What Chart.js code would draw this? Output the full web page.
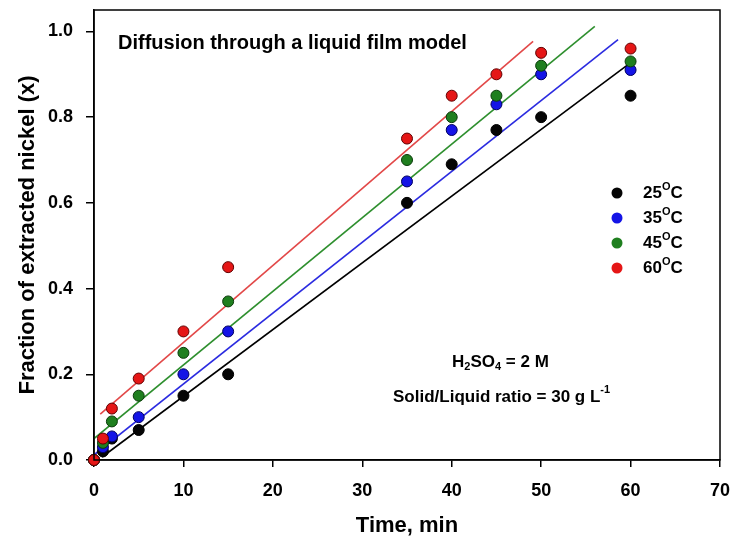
<!DOCTYPE html>
<html>
<head>
<meta charset="utf-8">
<script src="https://cdn.jsdelivr.net/npm/chart.js@4.4.1/dist/chart.umd.min.js"></script>
<style>
  html, body { margin: 0; padding: 0; background: #fff; }
  #wrap { width: 730px; height: 540px; }
</style>
</head>
<body>
<div id="wrap"><canvas id="chart" width="730" height="540"></canvas></div>
<script>
// ============ Data ============

const times = [0, 1, 2, 5, 10, 15, 35, 40, 45, 50, 60];
const temps = ['25', '35', '45', '60'];
const x25 = [0, 0.02, 0.05, 0.07, 0.15, 0.20, 0.60, 0.69, 0.77, 0.80, 0.85];
const x35 = [0, 0.03, 0.055, 0.10, 0.20, 0.30, 0.65, 0.77, 0.83, 0.90, 0.91];
const x45 = [0, 0.04, 0.09, 0.15, 0.25, 0.37, 0.70, 0.80, 0.85, 0.92, 0.93];
const x60 = [0, 0.05, 0.12, 0.19, 0.30, 0.45, 0.75, 0.85, 0.90, 0.95, 0.96];

// fitted lines (start, end) for each temperature
const fitT25 = [0.9, 60.2], fitX25 = [0.007, 0.93];
const fitT35 = [0, 58.6], fitX35 = [0.012, 0.981];
const fitT45 = [0, 56.0], fitX45 = [0.05, 1.012];
const fitT60 = [0.7, 49.1], fitX60 = [0.107, 0.977];

const xTicks = [0, 10, 20, 30, 40, 50, 60, 70];
const yTicks = [0, 0.2, 0.4, 0.6, 0.8, 1.0];

// ============ Styles ============

const FONT = "'Liberation Sans', Arial, sans-serif";
const FILL = ['#050505', '#1414e6', '#1f7f1f', '#e51616'];
const EDGE = ['#000000', '#000060', '#0a3a0a', '#600000'];
const LINE = ['#000000', '#2b2be0', '#2e8f2e', '#e24848'];

const seriesX = [x25, x35, x45, x60];
const fitsT = [fitT25, fitT35, fitT45, fitT60];
const fitsX = [fitX25, fitX35, fitX45, fitX60];

function toPoints(xs, ys) {
    return xs.map((x, i) => ({ x: x, y: ys[i] }));
}

const datasets = [];
temps.forEach((t, i) => {
    datasets.push({
        label: t + '°C',
        data: toPoints(times, seriesX[i]),
        backgroundColor: FILL[i],
        borderColor: EDGE[i],
        borderWidth: 1,
        pointRadius: 5.5,
        showLine: false,
        clip: false,
        order: 3 - i
    });
    datasets.push({
        label: t + ' fit',
        data: toPoints(fitsT[i], fitsX[i]),
        borderColor: LINE[i],
        borderWidth: 1.6,
        pointRadius: 0,
        showLine: true,
        fill: false,
        order: 10 + i
    });
});

// ============ Text helpers ============

// draws a run of pieces: {t, size, dy}
function drawRich(ctx, parts, x, y) {
    parts.forEach(p => {
        ctx.font = `bold ${p.size}px ${FONT}`;
        ctx.fillText(p.t, x, y + (p.dy || 0));
        x += ctx.measureText(p.t).width;
    });
}

const decorPlugin = {
    id: 'decor',
    afterDraw(chart) {
        const ctx = chart.ctx;
        const a = chart.chartArea;
        ctx.save();
        ctx.strokeStyle = '#000';
        ctx.lineWidth = 1.5;
        ctx.strokeRect(a.left, a.top, a.right - a.left, a.bottom - a.top);

        ctx.fillStyle = '#000';
        ctx.textBaseline = 'middle';
        ctx.textAlign = 'left';
        ctx.font = `bold 20px ${FONT}`;
        ctx.fillText('Diffusion through a liquid film model', 118, 43);

        // legend
        temps.forEach((t, i) => {
            const y = 193 + i * 25;
            ctx.beginPath();
            ctx.arc(617, y, 5.5, 0, Math.PI * 2);
            ctx.fillStyle = FILL[i];
            ctx.fill();
            ctx.fillStyle = '#000';
            drawRich(ctx, [
                { t: t, size: 17 },
                { t: 'O', size: 11, dy: -6 },
                { t: 'C', size: 17 }
            ], 643, y);
        });

        // conditions
        drawRich(ctx, [
            { t: 'H', size: 17 },
            { t: '2', size: 11, dy: 5 },
            { t: 'SO', size: 17 },
            { t: '4', size: 11, dy: 5 },
            { t: ' = 2 M', size: 17 }
        ], 452, 362);
        drawRich(ctx, [
            { t: 'Solid/Liquid ratio = 30 g L', size: 17 },
            { t: '-1', size: 11, dy: -7 }
        ], 393, 397);
        ctx.restore();
    }
};

// ============ Chart ============

new Chart(document.getElementById('chart'), {
    type: 'scatter',
    data: { datasets: datasets },
    options: {
        responsive: false,
        animation: false,
        layout: { padding: { top: 10, right: 10, left: 0, bottom: 1 } },
        plugins: {
            legend: { display: false },
            tooltip: { enabled: false }
        },
        scales: {
            x: {
                type: 'linear',
                min: 0,
                max: 70,
                afterBuildTicks: s => { s.ticks = xTicks.map(v => ({ value: v })); },
                afterFit: s => {
                    s.height = 79;
                    s.paddingLeft = 0;
                    s.paddingRight = 0;
                },
                grid: { drawOnChartArea: false, tickLength: 7, color: '#000', lineWidth: 1.5 },
                border: { color: '#000', width: 1.5 },
                ticks: {
                    color: '#000',
                    padding: 13,
                    maxRotation: 0,
                    autoSkip: false,
                    font: { family: FONT, size: 18, weight: 'bold' },
                    callback: v => String(v)
                },
                title: {
                    display: true,
                    text: 'Time, min',
                    color: '#000',
                    padding: { top: 0, bottom: 0 },
                    font: { family: FONT, size: 22, weight: 'bold' }
                }
            },
            y: {
                type: 'linear',
                min: 0,
                max: 1.05,
                afterBuildTicks: s => { s.ticks = yTicks.map(v => ({ value: v })); },
                afterFit: s => {
                    s.width = 94;
                    s.paddingTop = 0;
                    s.paddingBottom = 0;
                },
                grid: { drawOnChartArea: false, tickLength: 8, color: '#000', lineWidth: 1.5 },
                border: { color: '#000', width: 1.5 },
                ticks: {
                    color: '#000',
                    padding: 13,
                    autoSkip: false,
                    font: { family: FONT, size: 18, weight: 'bold' },
                    callback: v => v.toFixed(1)
                },
                title: {
                    display: true,
                    text: 'Fraction of extracted nickel (x)',
                    color: '#000',
                    padding: { top: 15, bottom: 0 },
                    font: { family: FONT, size: 22, weight: 'bold' }
                }
            }
        }
    },
    plugins: [decorPlugin]
});
</script>
</body>
</html>
